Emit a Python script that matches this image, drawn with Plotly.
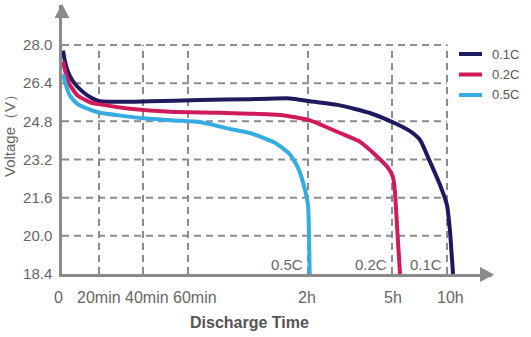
import numpy as np
import plotly.graph_objects as go

# ---- data -------------------------------------------------------------
# discharge time axis: tick values (hours) and their labels
tick_hours = [0, 1 / 3, 2 / 3, 1, 2, 5, 10]
tick_labels = ["0", "20min", "40min", "60min", "2h", "5h", "10h"]

# voltage grid values
volt_ticks = [18.4, 20.0, 21.6, 23.2, 24.8, 26.4, 28.0]

# 0.1C discharge curve (time in hours, voltage in V)
t_01c = [0.009, 0.027, 0.045, 0.09, 0.135, 0.198, 0.252, 0.341, 0.719, 1.1,
         1.517, 1.85, 2.07, 3.14, 4.21, 5.27, 6.64, 7.55, 8.45, 9.36, 10.0,
         10.27, 10.45, 10.55]
v_01c = [27.77, 27.31, 26.99, 26.54, 26.27, 26.0, 25.82, 25.64, 25.64, 25.69,
         25.73, 25.76, 25.64, 25.47, 25.15, 24.72, 24.39, 24.02, 23.11, 22.14,
         21.28, 20.2, 19.05, 18.4]

# 0.2C discharge curve
t_02c = [0.009, 0.036, 0.072, 0.144, 0.252, 0.341, 0.568, 0.867, 1.267, 1.767,
         2.07, 3.14, 3.86, 4.39, 4.86, 5.09, 5.27, 5.45, 5.64, 5.73]
v_02c = [27.31, 26.77, 26.31, 25.87, 25.6, 25.51, 25.33, 25.2, 25.16, 25.07,
         24.84, 24.31, 23.94, 23.41, 22.85, 22.46, 21.82, 20.48, 19.05, 18.4]

# 0.5C discharge curve
t_05c = [0.009, 0.036, 0.072, 0.144, 0.252, 0.341, 0.667, 0.904, 1.1, 1.35,
         1.517, 1.725, 1.85, 1.917, 1.958, 2.0, 2.036, 2.06]
v_05c = [26.77, 26.31, 25.87, 25.51, 25.29, 25.16, 24.93, 24.84, 24.77, 24.48,
         24.31, 23.9, 23.41, 22.85, 22.25, 21.28, 20.08, 18.4]

series = [
    ("0.1C", t_01c, v_01c, "#1d1a5e"),
    ("0.2C", t_02c, v_02c, "#d11a5b"),
    ("0.5C", t_05c, v_05c, "#35ace2"),
]

# ---- time scale: piecewise-linear, stretched at the short end ----------
tick_units = [0, 37, 81, 126, 246, 330, 385]
# small horizontal nudges so the crowded minute labels don't collide
label_nudge = [-4, 0, 4, 7, -1, 1, 3]


def time_to_axis(hours):
    h = np.asarray(hours, dtype=float)
    u = np.interp(h, tick_hours, tick_units)
    slope = (tick_units[-1] - tick_units[-2]) / (tick_hours[-1] - tick_hours[-2])
    beyond = h > tick_hours[-1]
    u[beyond] = tick_units[-1] + (h[beyond] - tick_hours[-1]) * slope
    return u


# ---- geometry ---------------------------------------------------------
W, H = 531, 337
ML, MR, MT, MB = 62, 39, 5, 63
PW, PH = W - ML - MR, H - MT - MB
X_MAX = PW  # one axis unit per pixel
V_LOW, V_HIGH = 18.4, 28.0
v_per_px = (V_HIGH - V_LOW) / (274 - 45)
V_TOP = V_HIGH + (45 - MT) * v_per_px


def px(x):
    return (x - ML) / PW


def py(y):
    return (H - MB - y) / PH


AXIS_GREY = "#8a8a8a"
GRID_GREY = "#8c8c8c"
TEXT_GREY = "#666666"
FONT = "Liberation Sans, Arial, sans-serif"

fig = go.Figure()

for name, t, v, color in series:
    fig.add_trace(go.Scatter(
        x=time_to_axis(t), y=v, mode="lines", name=name,
        line=dict(color=color, width=4, shape="spline", smoothing=0.5),
        showlegend=False, hoverinfo="skip",
    ))

shapes = []
grid_u = time_to_axis(tick_hours)
# dashed grid bounded by 0..10h and 18.4..28.0 V
for v in volt_ticks[1:]:
    shapes.append(dict(type="line", xref="x", yref="y", x0=0, x1=grid_u[-1],
                       y0=v, y1=v, layer="below",
                       line=dict(color=GRID_GREY, width=2, dash="7px,5px")))
for u in grid_u[1:]:
    shapes.append(dict(type="line", xref="x", yref="y", x0=u, x1=u,
                       y0=V_LOW, y1=V_HIGH, layer="below",
                       line=dict(color=GRID_GREY, width=2, dash="7px,5px")))

# arrow heads on both axes
shapes.append(dict(type="path", xref="paper", yref="paper",
                   path=f"M {px(62)} {py(4)} L {px(54.5)} {py(18)} L {px(69.5)} {py(18)} Z",
                   fillcolor=AXIS_GREY, line=dict(width=0)))
shapes.append(dict(type="path", xref="paper", yref="paper",
                   path=f"M {px(494)} {py(274.5)} L {px(480)} {py(267)} L {px(480)} {py(282)} Z",
                   fillcolor=AXIS_GREY, line=dict(width=0)))

annotations = []
# legend
for i, (name, _, _, color) in enumerate(series):
    yy = 54 + i * 20.5
    shapes.append(dict(type="line", xref="paper", yref="paper",
                       x0=px(459), x1=px(482), y0=py(yy), y1=py(yy),
                       line=dict(color=color, width=4)))
    annotations.append(dict(xref="paper", yref="paper", x=px(490), y=py(yy),
                            xanchor="left", yanchor="middle", text=name,
                            showarrow=False,
                            font=dict(family=FONT, size=13, color="#555555")))

# time tick labels
for u, lab, dx in zip(grid_u, tick_labels, label_nudge):
    annotations.append(dict(xref="x", yref="paper", x=float(u), y=py(297),
                            xanchor="center", yanchor="middle", xshift=dx,
                            text=lab, showarrow=False,
                            font=dict(family=FONT, size=16, color=TEXT_GREY)))

# rate labels at the end of each curve
for name, hrs in [("0.5C", 2), ("0.2C", 5), ("0.1C", 10)]:
    annotations.append(dict(xref="x", yref="y", x=float(time_to_axis([hrs])[0]),
                            y=V_LOW, xanchor="right", yanchor="bottom",
                            xshift=-3, yshift=-1, text=name, showarrow=False,
                            font=dict(family=FONT, size=15, color=TEXT_GREY)))

# axis titles
annotations.append(dict(xref="paper", yref="paper", x=px(9), y=py(132),
                        xanchor="center", yanchor="middle", textangle=-90,
                        text="Voltage（V）", showarrow=False,
                        font=dict(family=FONT, size=15, color=TEXT_GREY)))
annotations.append(dict(xref="paper", yref="paper", x=px(249), y=py(322),
                        xanchor="center", yanchor="middle",
                        text="<b>Discharge Time</b>", showarrow=False,
                        font=dict(family=FONT, size=16, color="#555555")))

fig.update_layout(
    width=W, height=H,
    margin=dict(l=ML, r=MR, t=MT, b=MB, pad=0),
    paper_bgcolor="white", plot_bgcolor="white",
    shapes=shapes, annotations=annotations,
    xaxis=dict(range=[0, X_MAX], showticklabels=False,
               showgrid=False, zeroline=False, showline=True,
               linecolor=AXIS_GREY, linewidth=2.5, ticks=""),
    yaxis=dict(range=[V_LOW, V_TOP], tickvals=volt_ticks,
               ticktext=[f"{v:.1f}" for v in volt_ticks],
               showgrid=False, zeroline=False, showline=True,
               linecolor=AXIS_GREY, linewidth=2.5, ticks="",
               ticklabelstandoff=4,
               tickfont=dict(family=FONT, size=15, color=TEXT_GREY)),
)

fig.write_html("out.html")
